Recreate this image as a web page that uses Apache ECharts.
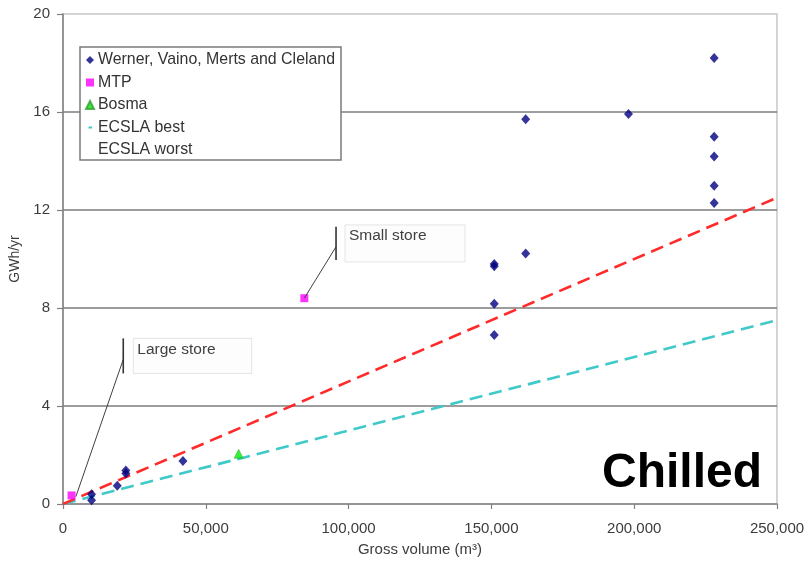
<!DOCTYPE html>
<html><head><meta charset="utf-8">
<script src="https://cdn.jsdelivr.net/npm/echarts@6/dist/echarts.min.js"></script>
<style>html,body{margin:0;padding:0;background:#fff}#c{width:808px;height:569px}</style>
</head><body><div id="c"></div>
<script>
// ---- data ----
const seriesNames = ['Werner, Vaino, Merts and Cleland', 'MTP', 'Bosma', 'ECSLA best', 'ECSLA worst'];
const wernerX = [10000, 10000, 19000, 22000, 22000, 42000, 151000, 151000, 151000, 151000, 162000, 162000, 198000, 228000, 228000, 228000, 228000, 228000];
const wernerY = [0.15, 0.4, 0.75, 1.25, 1.37, 1.76, 6.9, 8.17, 9.7, 9.8, 10.22, 15.7, 15.92, 12.29, 12.99, 14.18, 14.99, 18.2];
const mtpX = [3000, 84500];
const mtpY = [0.35, 8.4];
const bosmaX = [61500];
const bosmaY = [2.05];
const bestX = [0, 250000];
const bestY = [0, 7.5];
const worstX = [0, 250000];
const worstY = [0, 12.5];
const xTicks = [0, 50000, 100000, 150000, 200000, 250000];
const yTicks = [0, 4, 8, 12, 16, 20];
const annotationTexts = ['Small store', 'Large store'];
// annotation anchors in data units: leader start, elbow, bar extent, box extent
const annFrom = [[84500, 8.4], [4500, 0.3]];
const annElbow = [[95600, 10.5], [21100, 5.9]];
const annBarY = [[11.32, 9.96], [6.76, 5.33]];
const annBoxX = [[98740, 140760], [24615, 66070]];
const annBoxY = [[11.39, 9.88], [6.76, 5.33]];
const panelLabel = 'Chilled';

// ---- chart ----
const FONT = '"Liberation Sans", Arial, Helvetica, sans-serif';
const pairs = (xs, ys) => xs.map((x, i) => [x, ys[i]]);
const chart = echarts.init(document.getElementById('c'), null, {renderer: 'canvas'});
const axisGray = '#808080';
const textGray = '#3c3c3c';

const option = {
  animation: false,
  backgroundColor: '#ffffff',
  textStyle: {fontFamily: FONT},
  grid: {
    left: 63, right: 31, top: 14, bottom: 65,
    show: true, borderColor: '#c6c6c6', borderWidth: 1.5, backgroundColor: 'transparent',
    outerBoundsMode: 'none', containLabel: false
  },
  xAxis: {
    type: 'value', min: xTicks[0], max: xTicks[xTicks.length - 1], interval: xTicks[1] - xTicks[0],
    name: 'Gross volume (m³)', nameLocation: 'middle', nameGap: 38,
    nameTextStyle: {fontFamily: FONT, fontSize: 15, color: textGray},
    axisLine: {show: true, onZero: false, lineStyle: {color: axisGray, width: 1.5}},
    axisTick: {show: true, inside: false, length: 5, lineStyle: {color: axisGray, width: 1.2}},
    axisLabel: {margin: 17, fontFamily: FONT, fontSize: 15, color: textGray,
      formatter: v => v.toLocaleString('en-US')},
    splitLine: {show: false}
  },
  yAxis: {
    type: 'value', min: yTicks[0], max: yTicks[yTicks.length - 1], interval: yTicks[1] - yTicks[0],
    name: 'GWh/yr', nameLocation: 'middle', nameGap: 38, nameRotate: 90,
    nameTextStyle: {fontFamily: FONT, fontSize: 14, color: textGray},
    axisLine: {show: true, onZero: false, lineStyle: {color: axisGray, width: 1.5}},
    axisTick: {show: true, inside: false, length: 6, lineStyle: {color: axisGray, width: 1.2}},
    axisLabel: {margin: 13, fontFamily: FONT, fontSize: 15, color: textGray},
    splitLine: {show: true, showMinLine: false, showMaxLine: false, lineStyle: {color: '#7c7c7c', width: 1.5}}
  },
  legend: {
    orient: 'vertical', left: 80, top: 47,
    padding: [5, 6, 2, 5],
    itemGap: 6.5, itemWidth: 8, itemHeight: 8,
    backgroundColor: '#ffffff', borderColor: '#7a7a7a', borderWidth: 1.5, borderRadius: 0,
    selectedMode: false,
    textStyle: {fontFamily: FONT, fontSize: 15.9, color: '#333333', padding: [0, 0, 0, -1]},
    data: [
      {name: seriesNames[0], icon: 'diamond'},
      {name: seriesNames[1], icon: 'rect'},
      {name: seriesNames[2], icon: 'triangle'},
      {name: seriesNames[3], icon: 'path://M0,0M8,8M2.5,3H6V5H2.5Z', itemStyle: {color: '#3fc9c9'}},
      {name: seriesNames[4], icon: 'none'}
    ]
  },
  series: [
    {
      name: seriesNames[3], type: 'line', data: pairs(bestX, bestY), symbol: 'none', z: 2,
      lineStyle: {color: '#3fc9c9', width: 2.6, type: [13, 7]}, itemStyle: {color: '#3fc9c9'}
    },
    {
      name: seriesNames[4], type: 'line', data: pairs(worstX, worstY), symbol: 'none', z: 2,
      lineStyle: {color: '#ff2a2a', width: 2.6, type: [13, 7]}, itemStyle: {color: '#ff2a2a'}
    },
    {
      name: seriesNames[0], type: 'scatter', data: pairs(wernerX, wernerY), symbol: 'diamond',
      symbolSize: [9, 10], itemStyle: {color: '#00007f'}, z: 3
    },
    {
      name: seriesNames[1], type: 'scatter', data: pairs(mtpX, mtpY), symbol: 'rect',
      symbolSize: 8, itemStyle: {color: '#ff00ff'}, z: 3
    },
    {
      name: seriesNames[2], type: 'scatter', data: pairs(bosmaX, bosmaY), symbol: 'triangle',
      symbolSize: 9, itemStyle: {color: '#00ee00', borderColor: '#3a9a3a', borderWidth: 0.6}, z: 3
    }
  ]
};
chart.setOption(option);

function px(p) { return chart.convertToPixel({gridIndex: 0}, p); }
const graphics = [];
annotationTexts.forEach((t, i) => {
  const a = px(annFrom[i]);
  const e = px(annElbow[i]);
  const bt = px([annElbow[i][0], annBarY[i][0]]);
  const bb = px([annElbow[i][0], annBarY[i][1]]);
  const b0 = px([annBoxX[i][0], annBoxY[i][0]]);
  const b1 = px([annBoxX[i][1], annBoxY[i][1]]);
  graphics.push({type: 'rect', z: 50, shape: {x: b0[0], y: b0[1], width: b1[0] - b0[0], height: b1[1] - b0[1]},
    style: {fill: '#fdfdfd', stroke: '#e4e4e4', lineWidth: 1}});
  graphics.push({type: 'text', z: 51, x: b0[0] + 4, y: b0[1] + 3,
    style: {text: t, font: '15.5px ' + FONT, fill: '#404040', textAlign: 'left', textVerticalAlign: 'top'}});
  graphics.push({type: 'line', z: 51, shape: {x1: a[0], y1: a[1], x2: e[0], y2: e[1]},
    style: {stroke: '#404040', lineWidth: 1}});
  graphics.push({type: 'line', z: 51, shape: {x1: bt[0], y1: bt[1], x2: bb[0], y2: bb[1]},
    style: {stroke: '#333333', lineWidth: 1.6}});
});
graphics.push({type: 'text', z: 60, right: 46, top: 450,
  style: {text: panelLabel, font: 'bold 48px ' + FONT, fill: '#000000'}});
chart.setOption({graphic: graphics});
</script>
</body></html>
